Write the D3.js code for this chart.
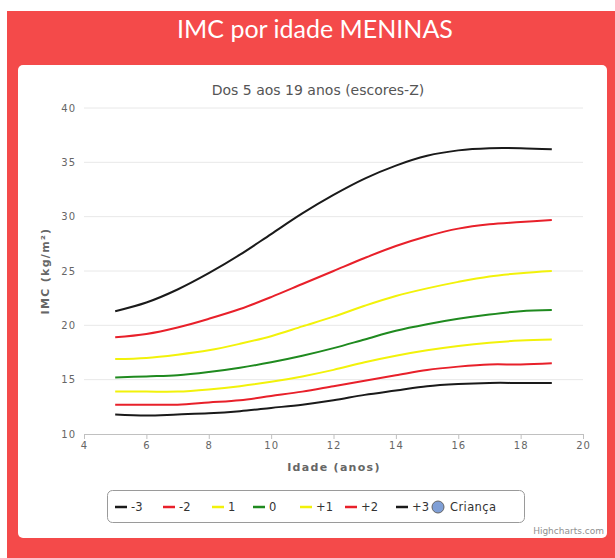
<!DOCTYPE html>
<html>
<head>
<meta charset="utf-8">
<script src="https://cdn.jsdelivr.net/npm/d3@7.9.0/dist/d3.min.js"></script>
<style>
  html, body { margin: 0; padding: 0; background: #fff; }
  svg { display: block; }
</style>
</head>
<body>
<svg id="chart" width="615" height="558"></svg>
<script>
// idades (anos) e escores-Z do IMC para meninas
const ages = [5, 6, 7, 8, 9, 10, 11, 12, 13, 14, 15, 16, 17, 18, 19];
const sdM3 = [11.8, 11.7, 11.8, 11.9, 12.1, 12.4, 12.7, 13.1, 13.6, 14.0, 14.4, 14.6, 14.7, 14.7, 14.7];
const sdM2 = [12.7, 12.7, 12.7, 12.9, 13.1, 13.5, 13.9, 14.4, 14.9, 15.4, 15.9, 16.2, 16.4, 16.4, 16.5];
const sdM1 = [13.9, 13.9, 13.9, 14.1, 14.4, 14.8, 15.3, 15.9, 16.6, 17.2, 17.7, 18.1, 18.4, 18.6, 18.7];
const sd0  = [15.2, 15.3, 15.4, 15.7, 16.1, 16.6, 17.2, 17.9, 18.7, 19.5, 20.1, 20.6, 21.0, 21.3, 21.4];
const sdP1 = [16.9, 17.0, 17.3, 17.7, 18.3, 19.0, 19.9, 20.8, 21.8, 22.7, 23.4, 24.0, 24.5, 24.8, 25.0];
const sdP2 = [18.9, 19.2, 19.8, 20.6, 21.5, 22.6, 23.8, 25.0, 26.2, 27.3, 28.2, 28.9, 29.3, 29.5, 29.7];
const sdP3 = [21.3, 22.1, 23.3, 24.8, 26.5, 28.4, 30.3, 32.0, 33.5, 34.7, 35.6, 36.1, 36.3, 36.3, 36.2];

const seriesNames = ['-3', '-2', '1', '0', '+1', '+2', '+3'];
const seriesColors = ['#1a1a1a', '#e8202a', '#f2f20a', '#1f8a1f', '#f2f20a', '#e8202a', '#1a1a1a'];
const seriesValues = [sdM3, sdM2, sdM1, sd0, sdP1, sdP2, sdP3];

const xTicks = [4, 6, 8, 10, 12, 14, 16, 18, 20];
const yTicks = [10, 15, 20, 25, 30, 35, 40];

const svg = d3.select('#chart');

// fundo vermelho e painel branco
svg.append('rect').attr('x', 7).attr('y', 11).attr('width', 608).attr('height', 547).attr('fill', '#f44a4a');
svg.append('rect').attr('x', 18).attr('y', 65).attr('width', 589).attr('height', 473)
  .attr('rx', 5).attr('fill', '#fff');

svg.append('text')
  .attr('x', 315).attr('y', 38)
  .attr('text-anchor', 'middle')
  .attr('fill', '#fff')
  .style('font-family', 'Lato, "Open Sans", sans-serif')
  .style('font-size', '25px')
  .text('IMC por idade MENINAS');

svg.append('text')
  .attr('x', 318).attr('y', 95)
  .attr('text-anchor', 'middle')
  .attr('fill', '#555')
  .style('font-family', '"DejaVu Sans", sans-serif')
  .style('font-size', '14px')
  .text('Dos 5 aos 19 anos (escores-Z)');

const x = d3.scaleLinear().domain([4, 20]).range([84, 583]);
const y = d3.scaleLinear().domain([10, 40]).range([434, 108]);

const tickFont = g => g.selectAll('text')
  .attr('fill', '#666')
  .style('font-family', '"DejaVu Sans", sans-serif')
  .style('font-size', '10px')
  .style('letter-spacing', '1px');

// grade horizontal
svg.append('g')
  .selectAll('line')
  .data(yTicks.slice(1))
  .join('line')
  .attr('x1', 84).attr('x2', 583)
  .attr('y1', d => y(d)).attr('y2', d => y(d))
  .attr('stroke', '#e8e8e8');

const yAxis = svg.append('g')
  .attr('transform', 'translate(84,0)')
  .call(d3.axisLeft(y).tickValues(yTicks).tickSize(0).tickPadding(8));
yAxis.select('.domain').remove();
yAxis.call(tickFont);

const xAxis = svg.append('g')
  .attr('transform', 'translate(0,434)')
  .call(d3.axisBottom(x).tickValues(xTicks).tickSize(5).tickSizeOuter(0).tickPadding(3));
xAxis.select('.domain').attr('stroke', '#c0c0c0');
xAxis.selectAll('.tick line').attr('stroke', '#c0c0c0');
xAxis.call(tickFont);

svg.append('text')
  .attr('transform', 'translate(49,271) rotate(-90)')
  .attr('text-anchor', 'middle')
  .attr('fill', '#666')
  .style('font-family', '"DejaVu Sans", sans-serif')
  .style('font-size', '11px')
  .style('font-weight', 'bold')
  .style('letter-spacing', '1.3px')
  .text('IMC (kg/m²)');

svg.append('text')
  .attr('x', 334).attr('y', 471)
  .attr('text-anchor', 'middle')
  .attr('fill', '#666')
  .style('font-family', '"DejaVu Sans", sans-serif')
  .style('font-size', '11px')
  .style('font-weight', 'bold')
  .style('letter-spacing', '1.3px')
  .text('Idade (anos)');

// curvas
const line = d3.line()
  .x((d, i) => x(ages[i]))
  .y(d => y(d))
  .curve(d3.curveCatmullRom.alpha(0.5));

svg.append('g')
  .selectAll('path')
  .data(seriesValues)
  .join('path')
  .attr('d', line)
  .attr('fill', 'none')
  .attr('stroke', (d, i) => seriesColors[i])
  .attr('stroke-width', 2);

// legenda
const legend = svg.append('g');
legend.append('rect')
  .attr('x', 107.5).attr('y', 490.5).attr('width', 417).attr('height', 32)
  .attr('rx', 5).attr('fill', '#fff').attr('stroke', '#9a9a9a');

const legendX = [115, 163, 212, 253, 300, 345, 396];
seriesNames.forEach((name, i) => {
  legend.append('line')
    .attr('x1', legendX[i]).attr('x2', legendX[i] + 12)
    .attr('y1', 507).attr('y2', 507)
    .attr('stroke', seriesColors[i]).attr('stroke-width', 2.5);
  legend.append('text')
    .attr('x', legendX[i] + 16).attr('y', 511)
    .attr('fill', '#333')
    .style('font-family', '"DejaVu Sans", sans-serif')
    .style('font-size', '11.5px')
    .text(name);
});
legend.append('circle')
  .attr('cx', 438).attr('cy', 507).attr('r', 6)
  .attr('fill', '#7f9fd6').attr('stroke', '#666').attr('stroke-width', 1);
legend.append('text')
  .attr('x', 450).attr('y', 511)
  .attr('fill', '#333')
  .style('font-family', '"DejaVu Sans", sans-serif')
  .style('font-size', '11.5px')
  .style('letter-spacing', '0.4px')
  .text('Criança');

svg.append('text')
  .attr('x', 604).attr('y', 534)
  .attr('text-anchor', 'end')
  .attr('fill', '#909090')
  .style('font-family', '"DejaVu Sans", sans-serif')
  .style('font-size', '9px')
  .text('Highcharts.com');
</script>
</body>
</html>
